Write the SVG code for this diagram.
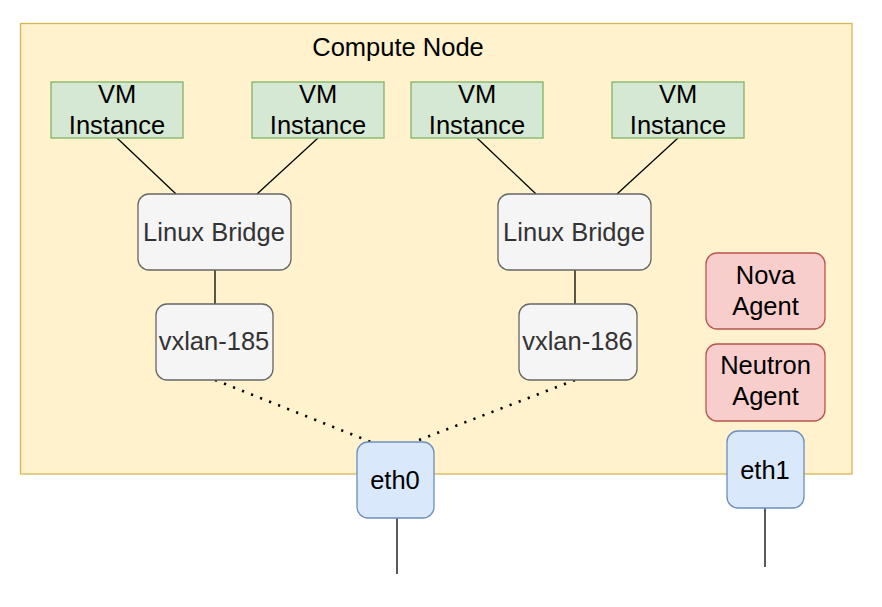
<svg xmlns="http://www.w3.org/2000/svg" width="882" height="607" viewBox="0 0 882 607">
<style>
text{font-family:"Liberation Sans",Arial,sans-serif;font-size:25.5px;text-anchor:middle;fill:#000}
.vm{fill:#d5e8d4;stroke:#82b366;stroke-width:1.3}
.gr{fill:#f5f5f5;stroke:#666666;stroke-width:1.3}
.bl{fill:#dae8fc;stroke:#6c8ebf;stroke-width:1.3}
.rd{fill:#f8cecc;stroke:#b85450;stroke-width:1.3}
.gt{fill:#333333}
.ln{stroke:#000;stroke-width:1.3;fill:none}
.dt{stroke:#000;stroke-width:2.6;fill:none;stroke-dasharray:2.2 7.5;stroke-linecap:butt}
</style>
<rect width="882" height="607" fill="#ffffff"/>
<g id="compute-node">
<rect x="20.5" y="23.5" width="831.5" height="450.5" fill="#fff2cc" stroke="#d6b656" stroke-width="1.3"/>
<text x="398" y="56">Compute Node</text>
</g>
<g id="connectors">
<line class="ln" x1="117" y1="138" x2="176" y2="194"/>
<line class="ln" x1="318" y1="138" x2="257" y2="194"/>
<line class="ln" x1="477" y1="138" x2="536" y2="194"/>
<line class="ln" x1="678" y1="138" x2="617" y2="194"/>
<line class="ln" x1="215" y1="270" x2="215" y2="304"/>
<line class="ln" x1="575" y1="270" x2="575" y2="304"/>
<line class="dt" x1="215" y1="380" x2="371" y2="442"/>
<line class="dt" x1="575" y1="380" x2="414" y2="442"/>
<line class="ln" x1="397" y1="518" x2="397" y2="574"/>
<line class="ln" x1="765" y1="508" x2="765" y2="567"/>
</g>
<g id="vm1"><rect class="vm" x="51" y="82" width="132" height="56"/><text x="117" y="103">VM</text><text x="117" y="134">Instance</text></g>
<g id="vm2"><rect class="vm" x="252" y="82" width="132" height="56"/><text x="318" y="103">VM</text><text x="318" y="134">Instance</text></g>
<g id="vm3"><rect class="vm" x="411" y="82" width="132" height="56"/><text x="477" y="103">VM</text><text x="477" y="134">Instance</text></g>
<g id="vm4"><rect class="vm" x="612" y="82" width="132" height="56"/><text x="678" y="103">VM</text><text x="678" y="134">Instance</text></g>
<g id="bridge1"><rect class="gr" x="138" y="194" width="153" height="76" rx="11"/><text class="gt" x="214" y="241">Linux Bridge</text></g>
<g id="bridge2"><rect class="gr" x="498" y="194" width="153" height="76" rx="11"/><text class="gt" x="574" y="241">Linux Bridge</text></g>
<g id="vxlan185"><rect class="gr" x="156" y="304" width="117" height="76" rx="11"/><text class="gt" x="214" y="350">vxlan-185</text></g>
<g id="vxlan186"><rect class="gr" x="519" y="304" width="118" height="76" rx="11"/><text class="gt" x="577.5" y="350">vxlan-186</text></g>
<g id="eth0"><rect class="bl" x="357" y="442" width="77" height="76" rx="11"/><text x="395" y="488.5">eth0</text></g>
<g id="nova-agent"><rect class="rd" x="706" y="253" width="119" height="76" rx="11"/><text x="765.5" y="283.5">Nova</text><text x="765.5" y="314.5">Agent</text></g>
<g id="neutron-agent"><rect class="rd" x="706" y="344" width="119" height="77" rx="11"/><text x="765.5" y="374">Neutron</text><text x="765.5" y="405">Agent</text></g>
<g id="eth1"><rect class="bl" x="727" y="431" width="77" height="77" rx="11"/><text x="765" y="478.5">eth1</text></g>
</svg>
